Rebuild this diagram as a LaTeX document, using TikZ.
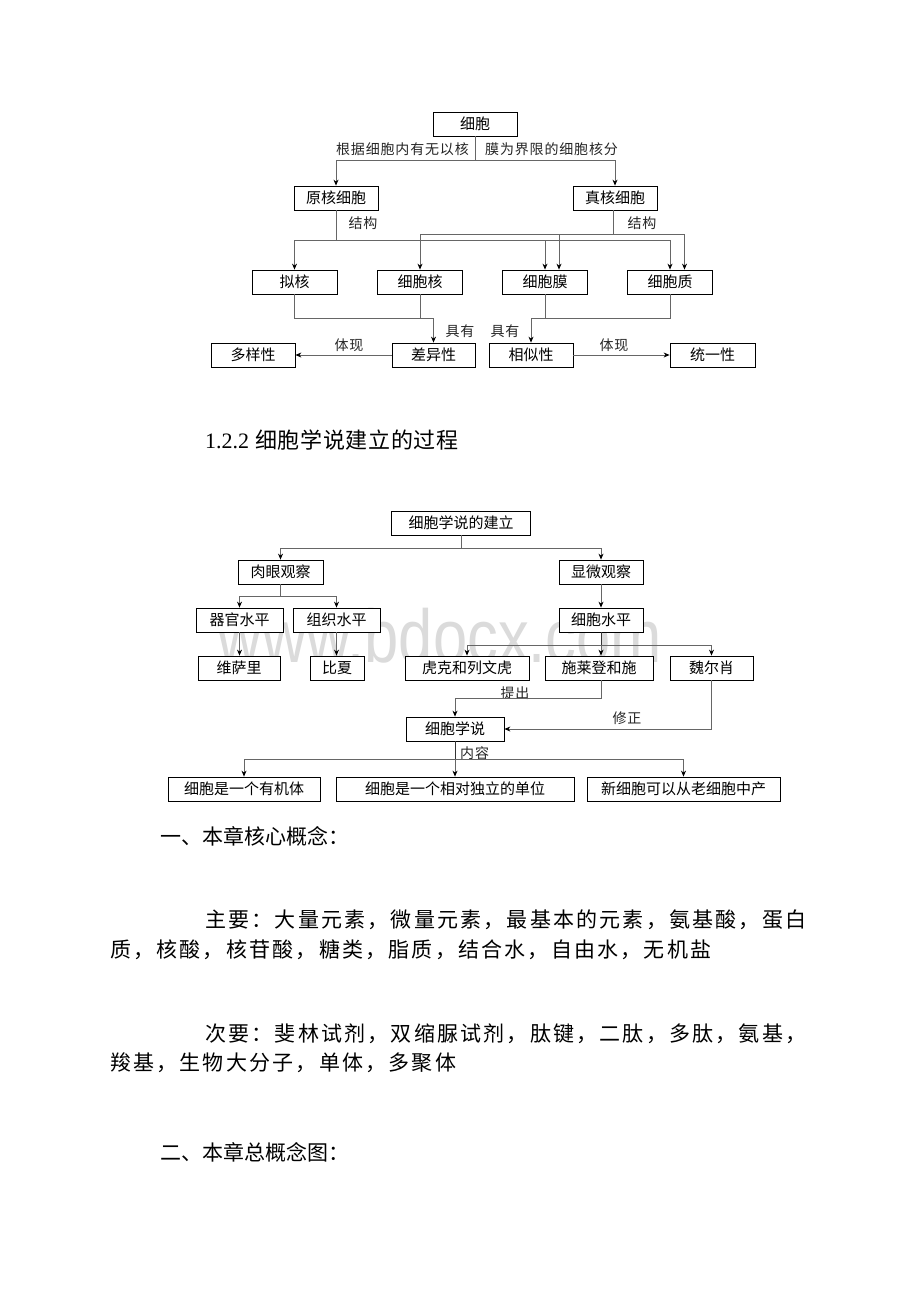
\documentclass[tikz,border=0pt]{standalone}
\usepackage{fontspec}
\setmainfont{Liberation Serif}
\newfontfamily\cjk{Noto Sans CJK SC}
\newfontfamily\cjkls[LetterSpace=6]{Noto Sans CJK SC}
\newfontfamily\cjkbody[LetterSpace=10.5]{Noto Sans CJK SC}
\newfontfamily\cjktitle[LetterSpace=3]{Noto Sans CJK SC}
\newfontfamily\wmfont{Liberation Sans}
\usetikzlibrary{arrows.meta}
\newcommand\boxfont{\cjk\fontsize{15}{16}\selectfont}
\newcommand\lblfont{\cjkls\fontsize{14}{15}\selectfont}
\newcommand\bodyfont{\cjkbody\fontsize{21}{21}\selectfont}
\newcommand\headfont{\cjk\fontsize{21}{21}\selectfont}
\tikzset{
  box/.style={draw=black, line width=0.8pt, fill=white, minimum height=24pt, inner sep=0pt, font=\boxfont},
  conn/.style={draw=black!60, line width=0.8pt},
  arr/.style={conn, -{Stealth[length=6pt,width=5pt,color=black]}},
  lbl/.style={font=\lblfont, inner sep=0pt, text=black!85},
  txt/.style={inner sep=0pt, anchor=west},
}
\begin{document}
\begin{tikzpicture}[x=1pt,y=-1pt]
\fill[white] (0,0) rectangle (920,1302);
\path[use as bounding box] (0,0) rectangle (920,1302);

% watermark
\node[inner sep=0pt, anchor=base, text=gray!28, font=\wmfont\fontsize{75}{75}\selectfont] (wm) at (440,662) {\scalebox{0.82}[1]{www.bdocx.com}};

% ---------- top diagram ----------
\node[box, minimum width=84pt] (cell) at (475,124) {细胞};
\node[box, minimum width=84pt] (prok) at (336,198) {原核细胞};
\node[box, minimum width=84pt] (euk) at (615,198) {真核细胞};
\node[box, minimum width=85pt] (nh) at (294.5,282) {拟核};
\node[box, minimum width=85pt] (nuc) at (420,282) {细胞核};
\node[box, minimum width=85pt] (mem) at (545,282) {细胞膜};
\node[box, minimum width=85pt] (cyt) at (670,282) {细胞质};
\node[box, minimum width=84pt] (div) at (253,355) {多样性};
\node[box, minimum width=83pt] (diff) at (433.5,355) {差异性};
\node[box, minimum width=84pt] (sim) at (531,355) {相似性};
\node[box, minimum width=85pt] (uni) at (712.5,355) {统一性};

\node[lbl, anchor=east] (la1) at (469,149) {根据细胞内有无以核};
\node[lbl, anchor=west] (la2) at (485,149) {膜为界限的细胞核分};
\node[lbl] (lj1) at (363,223) {结构};
\node[lbl] (lj2) at (642,223) {结构};
\node[lbl] (ly1) at (460,331) {具有};
\node[lbl] (ly2) at (505,331) {具有};
\node[lbl] (lt1) at (349,345) {体现};
\node[lbl] (lt2) at (614,345) {体现};

\coordinate (j1) at (475,160);
\draw[conn] (cell) -- (j1);
\draw[arr] (j1) -| (prok);
\draw[arr] (j1) -| (euk);

\coordinate (j2) at (336,240);
\draw[conn] (prok) -- (j2);
\draw[arr] (j2) -| (nh);
\draw[arr] (j2) -| (mem);
\draw[arr] (j2) -| (cyt);

\coordinate (j3) at (613,234);
\draw[conn] (euk.south -| j3) -- (j3);
\draw[arr] (j3) -| (nuc);
\draw[arr] (j3) -| ([xshift=14pt]mem.north);
\draw[arr] (j3) -| ([xshift=14.5pt]cyt.north);

\coordinate (j4) at (433.5,318);
\draw[conn] (nh) |- (j4);
\draw[conn] (nuc) -- (nuc |- j4);
\draw[arr] (j4) -- (diff);

\coordinate (j5) at (531,318);
\draw[conn] (cyt) |- (j5);
\draw[conn] (mem) -- (mem |- j5);
\draw[arr] (j5) -- (sim);

\draw[arr] (diff) -- (div);
\draw[arr] (sim) -- (uni);

% ---------- title ----------
\node[txt] (title) at (205,440) {\fontsize{22}{22}\selectfont 1.2.2\hspace{6pt}\cjktitle 细胞学说建立的过程};

% ---------- bottom diagram ----------
\node[box, minimum width=139pt] (est) at (461,523) {细胞学说的建立};
\node[box, minimum width=85pt] (rou) at (280.5,572) {肉眼观察};
\node[box, minimum width=84pt] (xian) at (601,572) {显微观察};
\node[box, minimum width=87pt] (qg) at (239.5,620) {器官水平};
\node[box, minimum width=87pt] (zz) at (336.5,620) {组织水平};
\node[box, minimum width=84pt] (xb) at (601,620) {细胞水平};
\node[box, minimum width=82pt] (wsl) at (239,668) {维萨里};
\node[box, minimum width=54pt] (bx) at (337,668) {比夏};
\node[box, minimum width=124pt] (hk) at (467,668) {虎克和列文虎};
\node[box, minimum width=108pt] (sl) at (599,668) {施莱登和施};
\node[box, minimum width=83pt] (wr) at (711.5,668) {魏尔肖};
\node[box, minimum width=98pt] (cs) at (455,729) {细胞学说};
\node[box, minimum width=152pt] (b1) at (244,789) {细胞是一个有机体};
\node[box, minimum width=238pt] (b2) at (455,789) {细胞是一个相对独立的单位};
\node[box, minimum width=193pt] (b3) at (683.5,789) {新细胞可以从老细胞中产};

\node[lbl] (lt) at (515,693) {提出};
\node[lbl] (lx) at (627,718) {修正};
\node[lbl, anchor=west] (ln) at (460,753) {内容};

\coordinate (k1) at (461,548);
\draw[conn] (est) -- (k1);
\draw[arr] (k1) -| (rou);
\draw[arr] (k1) -| (xian);

\coordinate (k2) at (280.5,596);
\draw[conn] (rou) -- (k2);
\draw[arr] (k2) -| (qg);
\draw[arr] (k2) -| (zz);

\draw[arr] (xian) -- (xb);
\draw[arr] (qg) -- (qg |- wsl.north);
\draw[arr] (zz) -- (zz |- bx.north);

\coordinate (k3) at (601,645);
\draw[conn, black!80] (xb) -- (k3);
\draw[arr] (k3) -| (hk);
\draw[arr] (k3) -- (k3 |- sl.north);
\draw[arr] (k3) -| (wr);

\coordinate (k4) at (455,698);
\draw[arr] (sl.south -| k3) |- (k4) -- (cs);
\draw[arr] (wr) |- (cs);

\coordinate (k5) at (455,759);
\draw[conn, black!80] (cs) -- (k5);
\draw[arr] (k5) -| (b1);
\draw[arr] (k5) -- (b2);
\draw[arr] (k5) -| (b3);

% ---------- body text ----------
\node[txt, font=\headfont] (h1) at (160,836) {一、本章核心概念：};
\node[txt, font=\bodyfont] (p1) at (205,920) {主要：大量元素，微量元素，最基本的元素，氨基酸，蛋白};
\node[txt, font=\bodyfont] (p2) at (110,950) {质，核酸，核苷酸，糖类，脂质，结合水，自由水，无机盐};
\node[txt, font=\bodyfont] (p3) at (205,1034) {次要：斐林试剂，双缩脲试剂，肽键，二肽，多肽，氨基，};
\node[txt, font=\bodyfont] (p4) at (110,1063) {羧基，生物大分子，单体，多聚体};
\node[txt, font=\headfont] (h2) at (160,1152) {二、本章总概念图：};
\end{tikzpicture}
\end{document}
